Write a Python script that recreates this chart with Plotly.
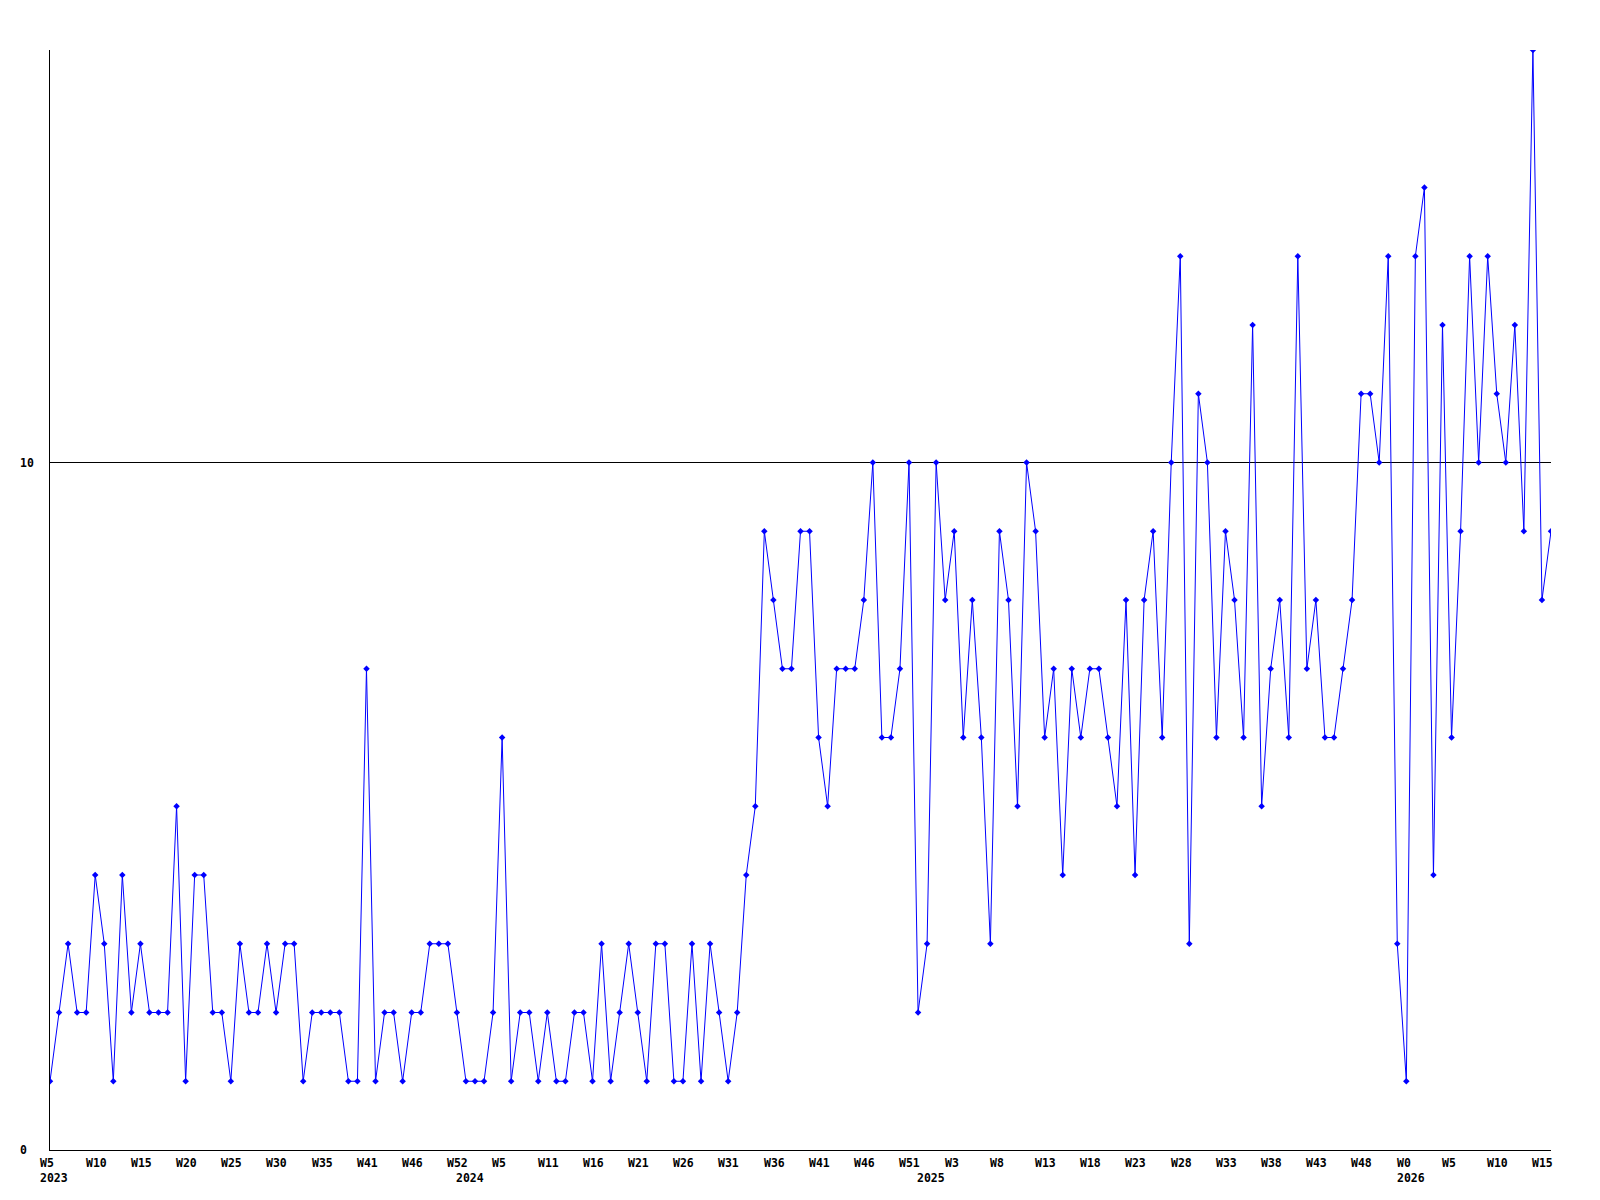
import plotly.graph_objects as go

# ---- data ----
values = [
    1, 2, 3, 2, 2, 4, 3, 1, 4, 2, 3, 2, 2, 2, 5, 1, 4, 4, 2, 2, 1, 3, 2, 2, 3, 2, 3, 3,
    1, 2, 2, 2, 2, 1, 1, 7, 1, 2, 2, 1, 2, 2, 3, 3, 3, 2, 1, 1, 1, 2, 6, 1, 2, 2, 1, 2,
    1, 1, 2, 2, 1, 3, 1, 2, 3, 2, 1, 3, 3, 1, 1, 3, 1, 3, 2, 1, 2, 4, 5, 9, 8, 7, 7, 9,
    9, 6, 5, 7, 7, 7, 8, 10, 6, 6, 7, 10, 2, 3, 10, 8, 9, 6, 8, 6, 3, 9, 8, 5, 10, 9,
    6, 7, 4, 7, 6, 7, 7, 6, 5, 8, 4, 8, 9, 6, 10, 13, 3, 11, 10, 6, 9, 8, 6, 12, 5, 7,
    8, 6, 13, 7, 8, 6, 6, 7, 8, 11, 11, 10, 13, 3, 1, 13, 14, 4, 12, 6, 9, 13, 10, 13,
    11, 10, 12, 9, 16, 8, 9,
]
week_labels = [
    "W5", "W10", "W15", "W20", "W25", "W30", "W35", "W41", "W46", "W52",
    "W5", "W11", "W16", "W21", "W26", "W31", "W36", "W41", "W46", "W51",
    "W3", "W8", "W13", "W18", "W23", "W28", "W33", "W38", "W43", "W48",
    "W0", "W5", "W10", "W15",
]
week_tick_index = list(range(0, 5 * len(week_labels), 5))
year_labels = ["2023", "2024", "2025", "2026"]
year_index = [0, 46, 97, 150]
y_tick_values = [0, 10]

x = list(range(len(values)))

FONT = "DejaVu Sans Mono"
fig = go.Figure()
fig.add_trace(go.Scatter(
    x=x, y=values, mode="lines+markers",
    line=dict(color="#0000FF", width=1),
    marker=dict(symbol="diamond", size=5, color="#0000FF", line=dict(width=0)),
    showlegend=False, hoverinfo="skip",
))

ann = []
for lab, idx in zip(week_labels, week_tick_index):
    ann.append(dict(x=idx, y=0, xref="x", yref="paper", text="<b>%s</b>" % lab,
                    showarrow=False, xanchor="left", yanchor="top",
                    xshift=-10.7, yshift=-5, borderpad=0,
                    font=dict(family=FONT, size=11.5, color="black")))
for lab, idx in zip(year_labels, year_index):
    ann.append(dict(x=idx, y=0, xref="x", yref="paper", text="<b>%s</b>" % lab,
                    showarrow=False, xanchor="left", yanchor="top",
                    xshift=-10.7, yshift=-20, borderpad=0,
                    font=dict(family=FONT, size=11.5, color="black")))
for v in y_tick_values:
    ann.append(dict(x=0, y=v, xref="paper", yref="y", text="<b>%d</b>" % v,
                    showarrow=False, xanchor="left", yanchor="middle",
                    xshift=-30.7, borderpad=0,
                    font=dict(family=FONT, size=11.5, color="black")))

# page body has an 8px default margin, so shift the plot area accordingly
fig.update_layout(
    width=1600, height=1200,
    margin=dict(l=42, r=57, t=42, b=58),
    paper_bgcolor="white", plot_bgcolor="white",
    annotations=ann,
    xaxis=dict(range=[0, len(values) - 1], showgrid=False, zeroline=False,
               showline=True, linecolor="black", linewidth=1,
               showticklabels=False, ticks=""),
    yaxis=dict(range=[0, 16], tickvals=y_tick_values, showgrid=True,
               gridcolor="black", gridwidth=1, zeroline=False,
               showline=True, linecolor="black", linewidth=1,
               showticklabels=False, ticks=""),
)
fig.write_html("out.html")
